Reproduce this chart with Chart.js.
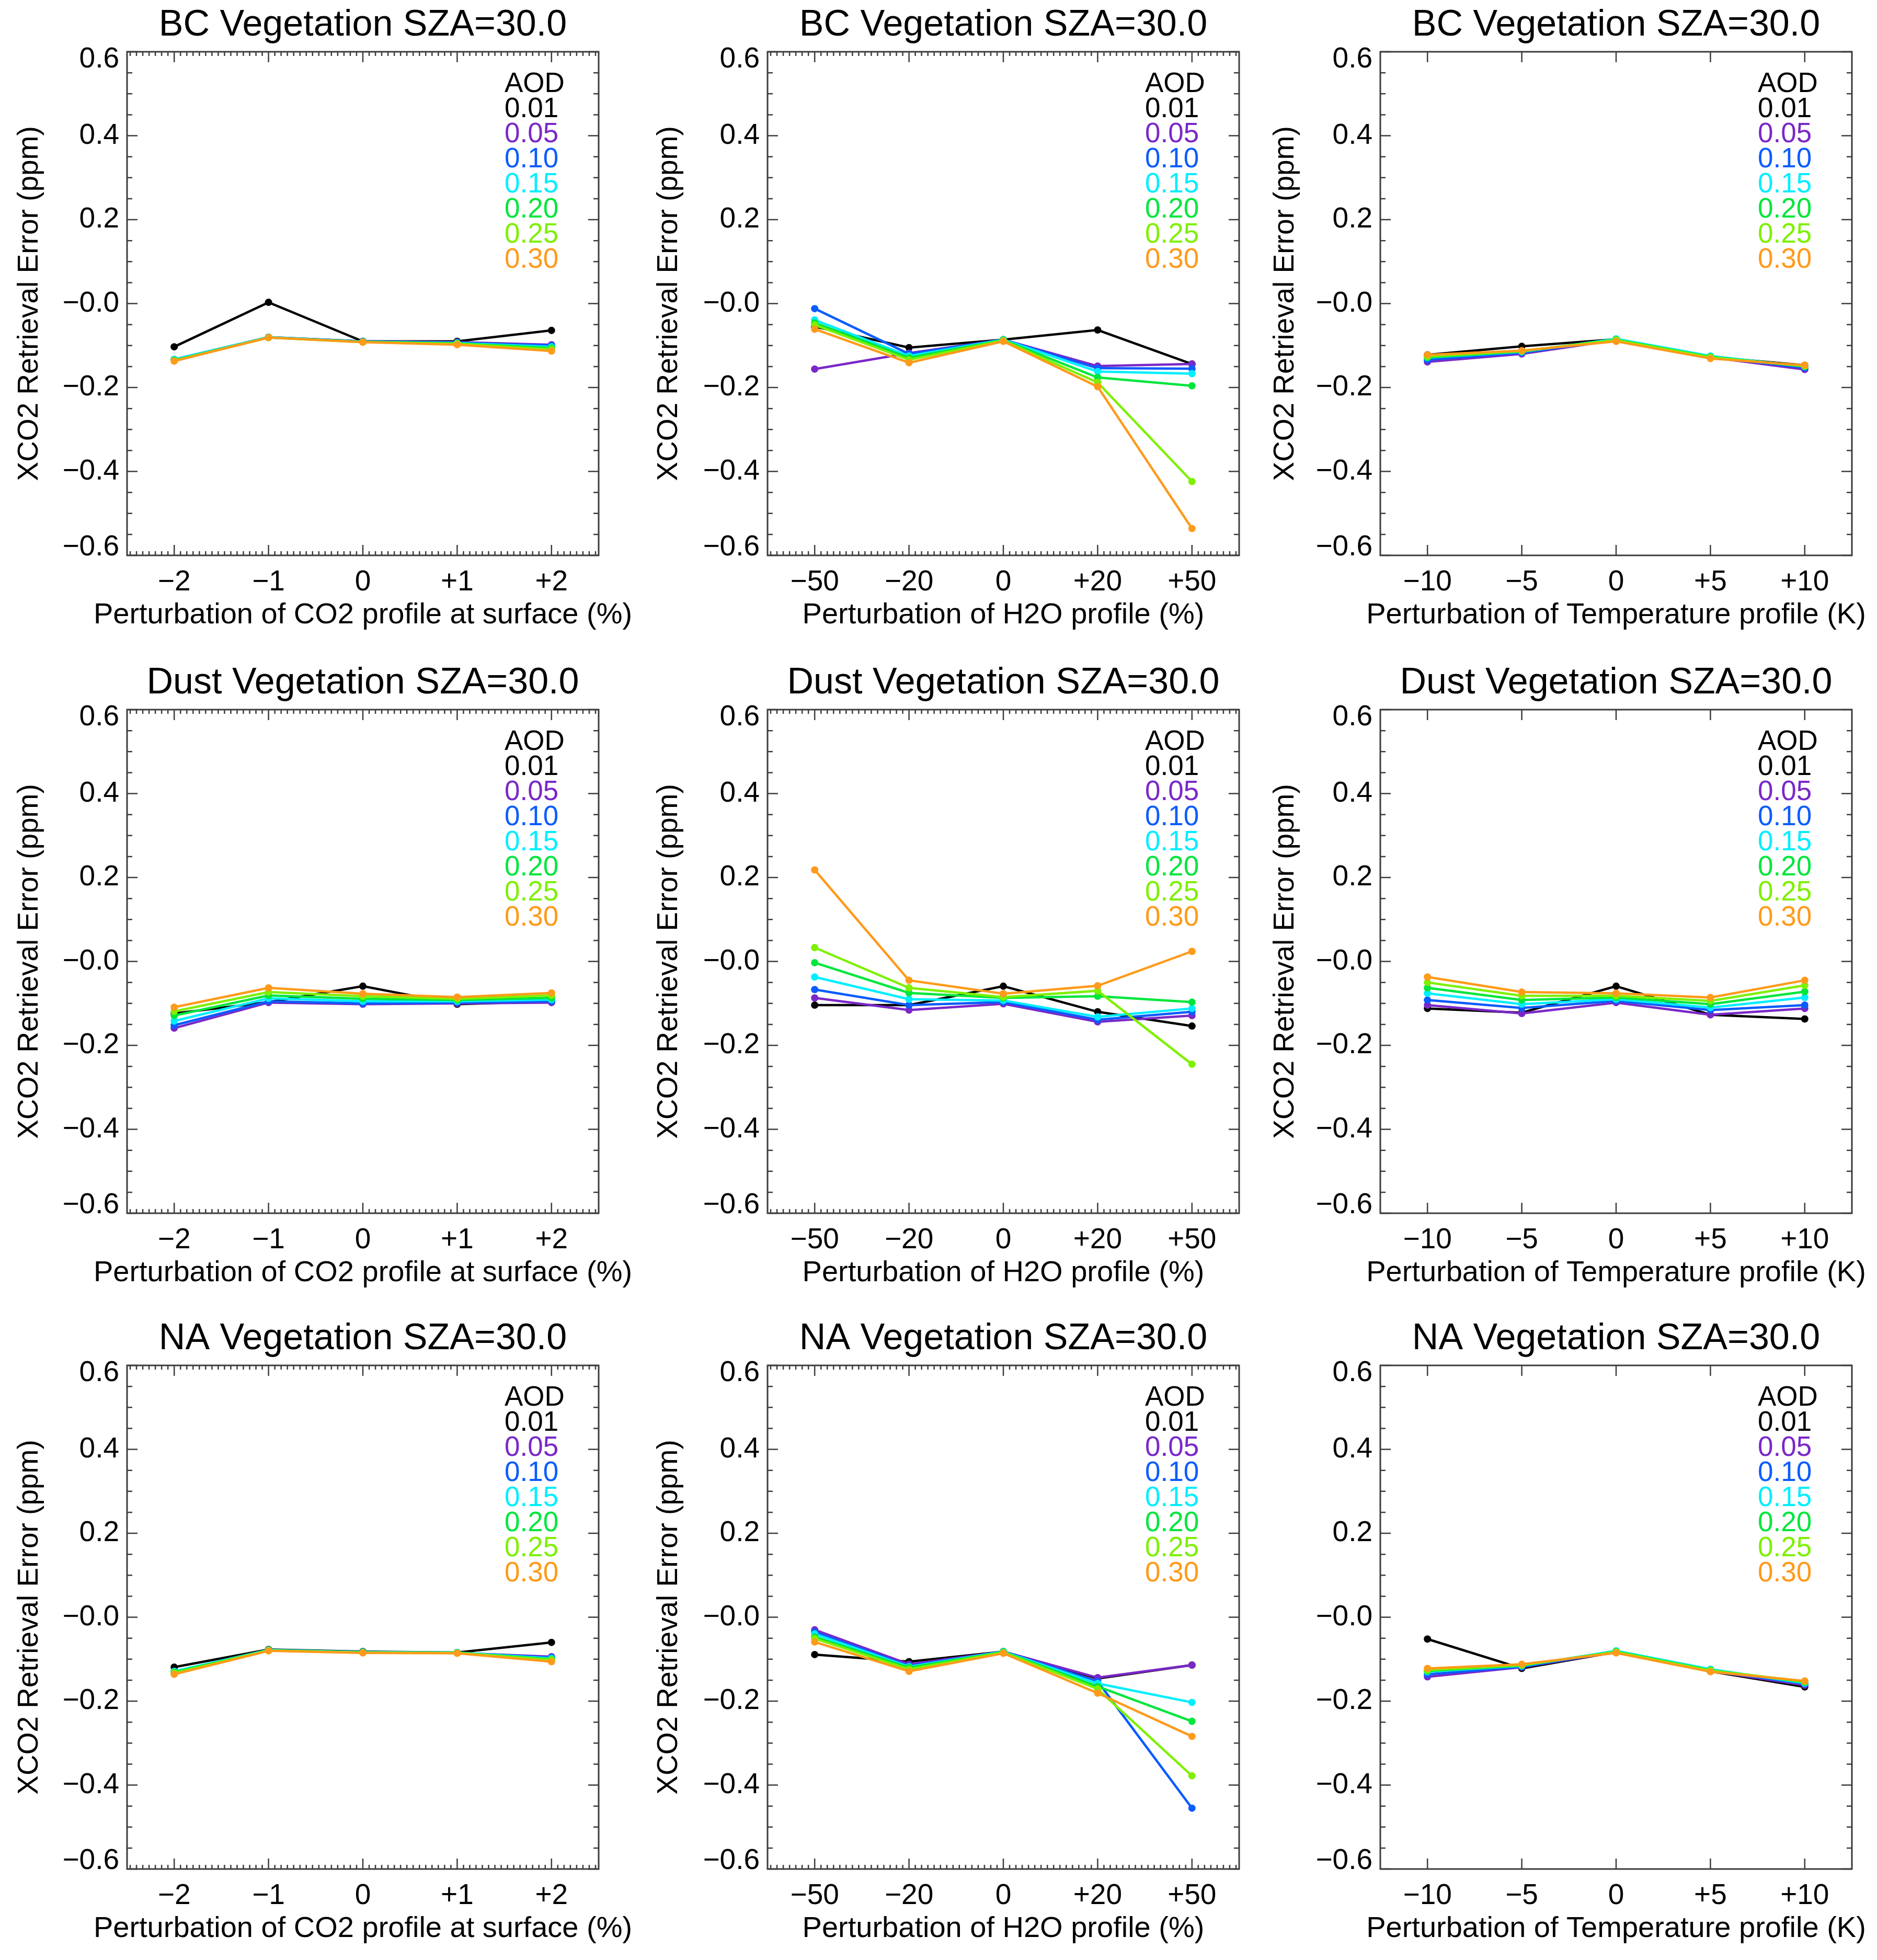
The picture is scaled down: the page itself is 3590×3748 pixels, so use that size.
<!DOCTYPE html>
<html>
<head>
<meta charset="utf-8">
<script src="https://cdn.jsdelivr.net/npm/chart.js@4.4.1/dist/chart.umd.min.js"></script>
<style>
  html, body { margin: 0; padding: 0; background: #fff; overflow: hidden; }
  #page { position: relative; width: 3590px; height: 3748px; overflow: hidden; background: #fff; }
  #page canvas { position: absolute; }
</style>
</head>
<body>
<div id="page"></div>
<script>
/* ---- categories / tick labels ---- */
const co2Labels  = ['\u22122', '\u22121', '0', '+1', '+2'];
const h2oLabels  = ['\u221250', '\u221220', '0', '+20', '+50'];
const tempLabels = ['\u221210', '\u22125', '0', '+5', '+10'];
const aodLabels  = ['0.01', '0.05', '0.10', '0.15', '0.20', '0.25', '0.30'];
const aodColors  = ['#000000', '#7a28c8', '#0a5cff', '#00eeff', '#00e63c', '#7ef000', '#ff9a1a'];

/* ---- XCO2 retrieval error (ppm), one row per AOD ---- */
const bcCo2 = [
  [-0.103,  0.003, -0.090, -0.090, -0.064],
  [-0.133, -0.080, -0.090, -0.092, -0.098],
  [-0.134, -0.080, -0.090, -0.093, -0.100],
  [-0.133, -0.080, -0.091, -0.094, -0.103],
  [-0.135, -0.081, -0.091, -0.095, -0.106],
  [-0.136, -0.081, -0.092, -0.096, -0.109],
  [-0.137, -0.081, -0.092, -0.098, -0.113],
];
const bcH2o = [
  [-0.055, -0.105, -0.086, -0.063, -0.144],
  [-0.156, -0.118, -0.086, -0.149, -0.144],
  [-0.012, -0.120, -0.086, -0.154, -0.155],
  [-0.039, -0.125, -0.086, -0.162, -0.167],
  [-0.046, -0.129, -0.087, -0.176, -0.196],
  [-0.051, -0.134, -0.088, -0.188, -0.424],
  [-0.061, -0.141, -0.090, -0.198, -0.536],
];
const bcTemp = [
  [-0.122, -0.102, -0.085, -0.127, -0.147],
  [-0.139, -0.120, -0.087, -0.128, -0.157],
  [-0.134, -0.117, -0.086, -0.127, -0.153],
  [-0.129, -0.115, -0.084, -0.125, -0.150],
  [-0.128, -0.114, -0.086, -0.127, -0.150],
  [-0.126, -0.113, -0.087, -0.128, -0.149],
  [-0.122, -0.112, -0.090, -0.131, -0.147],
];
const dustCo2 = [
  [-0.124, -0.097, -0.059, -0.102, -0.095],
  [-0.159, -0.098, -0.102, -0.100, -0.098],
  [-0.152, -0.095, -0.100, -0.098, -0.095],
  [-0.142, -0.088, -0.095, -0.095, -0.091],
  [-0.129, -0.081, -0.089, -0.092, -0.087],
  [-0.119, -0.073, -0.083, -0.089, -0.081],
  [-0.109, -0.063, -0.077, -0.085, -0.075],
];
const dustH2o = [
  [-0.104, -0.104, -0.059, -0.120, -0.154],
  [-0.087, -0.116, -0.101, -0.144, -0.129],
  [-0.067, -0.104, -0.097, -0.139, -0.120],
  [-0.037, -0.090, -0.093, -0.132, -0.112],
  [-0.003, -0.075, -0.087, -0.083, -0.097],
  [ 0.033, -0.063, -0.085, -0.070, -0.245],
  [ 0.218, -0.045, -0.077, -0.058,  0.024],
];
const dustTemp = [
  [-0.112, -0.122, -0.059, -0.127, -0.137],
  [-0.104, -0.124, -0.098, -0.127, -0.112],
  [-0.092, -0.111, -0.094, -0.116, -0.104],
  [-0.076, -0.102, -0.090, -0.110, -0.086],
  [-0.063, -0.092, -0.086, -0.102, -0.072],
  [-0.050, -0.082, -0.082, -0.094, -0.057],
  [-0.037, -0.073, -0.076, -0.086, -0.045],
];
const naCo2 = [
  [-0.119, -0.077, -0.082, -0.084, -0.060],
  [-0.130, -0.079, -0.084, -0.085, -0.094],
  [-0.130, -0.079, -0.084, -0.085, -0.096],
  [-0.129, -0.078, -0.083, -0.084, -0.098],
  [-0.131, -0.079, -0.084, -0.085, -0.100],
  [-0.133, -0.079, -0.084, -0.085, -0.102],
  [-0.136, -0.080, -0.085, -0.086, -0.106],
];
const naH2o = [
  [-0.089, -0.106, -0.082, -0.146, -0.114],
  [-0.030, -0.112, -0.082, -0.144, -0.114],
  [-0.035, -0.116, -0.082, -0.153, -0.455],
  [-0.040, -0.118, -0.082, -0.158, -0.203],
  [-0.047, -0.120, -0.083, -0.165, -0.248],
  [-0.051, -0.124, -0.084, -0.171, -0.378],
  [-0.059, -0.129, -0.086, -0.181, -0.284],
];
const naTemp = [
  [-0.052, -0.122, -0.083, -0.129, -0.166],
  [-0.142, -0.119, -0.083, -0.128, -0.162],
  [-0.136, -0.118, -0.082, -0.127, -0.159],
  [-0.130, -0.116, -0.080, -0.124, -0.157],
  [-0.128, -0.115, -0.082, -0.126, -0.155],
  [-0.126, -0.114, -0.083, -0.127, -0.153],
  [-0.122, -0.112, -0.085, -0.130, -0.152],
];

const FONT = '"Liberation Sans", Arial, Helvetica, sans-serif';
const Y_TITLE = 'XCO2 Retrieval Error (ppm)';

/* layout of the 3x3 grid (canvas origin, y-axis width, y-title offset) */
const rowTops = [0, 1258, 2512];
const cols = [
  { left: 0,    yW: 243, yPad: 24, xTitle: 'Perturbation of CO2 profile at surface (%)', labels: co2Labels,  minor: true  },
  { left: 1190, yW: 278, yPad: 57, xTitle: 'Perturbation of H2O profile (%)',            labels: h2oLabels,  minor: true  },
  { left: 2390, yW: 250, yPad: 36, xTitle: 'Perturbation of Temperature profile (K)',    labels: tempLabels, minor: false },
];
const PLOT_W = 902, CANVAS_H = 1236, X_H = 174;

const panels = [
  { title: 'BC Vegetation SZA=30.0',   row: 0, col: 0, data: bcCo2 },
  { title: 'BC Vegetation SZA=30.0',   row: 0, col: 1, data: bcH2o },
  { title: 'BC Vegetation SZA=30.0',   row: 0, col: 2, data: bcTemp },
  { title: 'Dust Vegetation SZA=30.0', row: 1, col: 0, data: dustCo2 },
  { title: 'Dust Vegetation SZA=30.0', row: 1, col: 1, data: dustH2o },
  { title: 'Dust Vegetation SZA=30.0', row: 1, col: 2, data: dustTemp },
  { title: 'NA Vegetation SZA=30.0',   row: 2, col: 0, data: naCo2 },
  { title: 'NA Vegetation SZA=30.0',   row: 2, col: 1, data: naH2o },
  { title: 'NA Vegetation SZA=30.0',   row: 2, col: 2, data: naTemp, noYTitle: true },
];

/* ----------------------------------------------------------
   IDL-style frame: box on four sides, ticks pointing inward,
   plus the AOD colour key and the (unsqueezed) x-axis title
   ---------------------------------------------------------- */
const framePlugin = {
  id: 'frame',
  beforeDatasetsDraw(chart, args, opts) {
    const { ctx, chartArea: a, scales: { x, y } } = chart;
    ctx.save();
    ctx.strokeStyle = '#3c3c3c';
    ctx.lineWidth = 2.5;
    ctx.beginPath();
    for (let k = -12; k <= 12; k++) {
      const py = y.getPixelForValue(k * 0.05);
      const len = k % 4 === 0 ? 20 : 10;
      ctx.moveTo(a.left, py);  ctx.lineTo(a.left + len, py);
      ctx.moveTo(a.right, py); ctx.lineTo(a.right - len, py);
    }
    for (let k = -7; k <= 67; k++) {
      const v = k / 15;
      if (v <= -0.5 || v >= 4.5) continue;
      const major = k % 15 === 0;
      if (!major && !opts.minor) continue;
      const px = x.getPixelForValue(v);
      const len = major ? 20 : 8;
      ctx.moveTo(px, a.bottom); ctx.lineTo(px, a.bottom - len);
      ctx.moveTo(px, a.top);    ctx.lineTo(px, a.top + len);
    }
    ctx.stroke();
    ctx.lineWidth = 3;
    ctx.strokeRect(a.left, a.top, a.right - a.left, a.bottom - a.top);
    ctx.restore();
  },
  afterDatasetsDraw(chart, args, opts) {
    const { ctx, chartArea: a } = chart;
    ctx.save();
    ctx.font = `53px ${FONT}`;
    ctx.textAlign = 'left';
    ctx.textBaseline = 'middle';
    const lx = a.left + 722;
    ctx.fillStyle = '#000';
    ctx.fillText('AOD', lx, a.top + 62);
    aodLabels.forEach((lab, i) => {
      ctx.fillStyle = aodColors[i];
      ctx.fillText(lab, lx, a.top + 110 + i * 48);
    });
    // x-axis title drawn here so Chart.js does not squeeze it to the plot width
    ctx.fillStyle = '#000';
    ctx.font = `56px ${FONT}`;
    ctx.textAlign = 'center';
    ctx.fillText(opts.xTitle, (a.left + a.right) / 2, a.bottom + 115);
    ctx.restore();
  },
};

function yLabel(v) {
  const r = Math.round(v * 10) / 10;
  const txt = r === 0 ? '\u22120.0' : (r < 0 ? '\u2212' + Math.abs(r).toFixed(1) : r.toFixed(1));
  // IDL nudges the end labels inward
  if (r === 0.6)  return ['', txt];
  if (r === -0.6) return [txt, ''];
  return txt;
}

const page = document.getElementById('page');

panels.forEach(p => {
  const c = cols[p.col];
  const boxCenter = c.left + c.yW + PLOT_W / 2;
  const width = Math.round(2 * (boxCenter - c.left));
  const canvas = document.createElement('canvas');
  canvas.width = width;
  canvas.height = CANVAS_H;
  canvas.style.left = c.left + 'px';
  canvas.style.top = rowTops[p.row] + 'px';
  canvas.style.width = width + 'px';
  canvas.style.height = CANVAS_H + 'px';
  page.appendChild(canvas);

  const datasets = p.data.map((vals, i) => ({
    label: aodLabels[i],
    data: vals,
    borderColor: aodColors[i],
    backgroundColor: aodColors[i],
    borderWidth: 4.5,
    pointRadius: 7,
    pointBorderWidth: 0,
    tension: 0,
    order: aodLabels.length - i,
  }));

  new Chart(canvas, {
    type: 'line',
    data: { labels: c.labels, datasets },
    plugins: [framePlugin],
    options: {
      responsive: false,
      animation: false,
      devicePixelRatio: 1,
      layout: { padding: { left: 0, right: c.yW, top: 0, bottom: 0 } },
      plugins: {
        legend:  { display: false },
        tooltip: { enabled: false },
        frame:   { minor: c.minor, xTitle: c.xTitle },
        title: {
          display: true,
          fullSize: false,
          text: p.title,
          color: '#000',
          font: { family: FONT, size: 70, weight: 'normal', lineHeight: 1.2 },
          padding: { top: 7, bottom: 8 },
        },
      },
      scales: {
        x: {
          type: 'category',
          offset: true,
          grid: { display: false, drawTicks: false },
          border: { display: false },
          ticks: {
            color: '#000', padding: 19, maxRotation: 0, autoSkip: false,
            font: { family: FONT, size: 55 },
          },
          title: { display: false },
          afterFit(scale) { scale.height = X_H; },
        },
        y: {
          min: -0.6, max: 0.6,
          grid: { display: false, drawTicks: false },
          border: { display: false },
          ticks: {
            stepSize: 0.2, color: '#000', padding: 15, autoSkip: false,
            font: { family: FONT, size: 55, lineHeight: 0.55 },
            callback: yLabel,
          },
          title: {
            display: !p.noYTitle, text: Y_TITLE, color: '#000',
            font: { family: FONT, size: 55, lineHeight: 1.2 },
            padding: { top: c.yPad, bottom: 0 },
          },
          afterFit(scale) { scale.width = c.yW; },
        },
      },
    },
  });
});
</script>
</body>
</html>
